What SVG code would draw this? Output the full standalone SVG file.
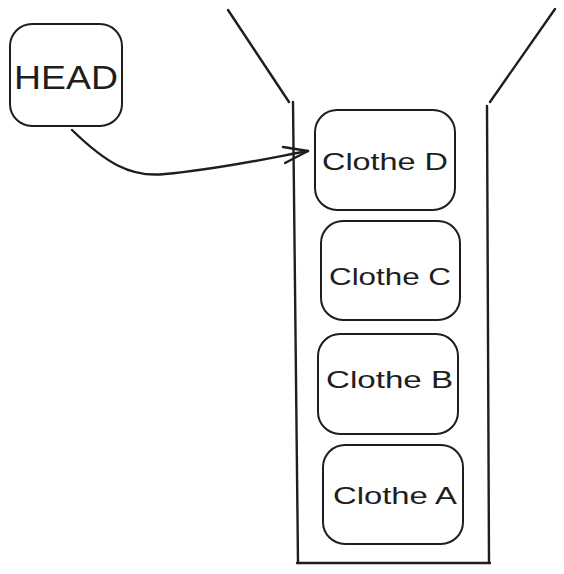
<svg xmlns="http://www.w3.org/2000/svg" width="564" height="574" viewBox="0 0 564 574">
<style>
.box{fill:#ffffff;stroke:#1e1e1e;stroke-width:2;}
.ln{fill:none;stroke:#1e1e1e;stroke-width:2.4;stroke-linecap:round;stroke-linejoin:round;}
.lbl{font-family:"Liberation Sans","DejaVu Sans",sans-serif;fill:#1e1e1e;}
</style>
<rect width="564" height="574" fill="#ffffff"/>
<g id="funnel">
<path class="ln" d="M228,10 L289,102"/>
<path class="ln" d="M555,9 L490,102"/>
<path class="ln" d="M293,102 L298,563"/>
<path class="ln" d="M487,106 L489,563"/>
<path class="ln" d="M297,563 L490,563"/>
</g>
<g id="head">
<rect class="box" x="10" y="24" width="112" height="102" rx="22"/>
<text class="lbl" x="14" y="89" font-size="34" textLength="104" lengthAdjust="spacingAndGlyphs">HEAD</text>
</g>
<g id="clothe-d">
<rect class="box" x="315" y="110" width="140" height="100" rx="22"/>
<text class="lbl" x="322" y="170" font-size="24" textLength="126" lengthAdjust="spacingAndGlyphs">Clothe D</text>
</g>
<g id="clothe-c">
<rect class="box" x="321" y="221" width="139" height="99" rx="22"/>
<text class="lbl" x="329" y="285" font-size="24" textLength="122" lengthAdjust="spacingAndGlyphs">Clothe C</text>
</g>
<g id="clothe-b">
<rect class="box" x="318" y="334" width="140" height="100" rx="22"/>
<text class="lbl" x="326" y="388" font-size="24" textLength="127" lengthAdjust="spacingAndGlyphs">Clothe B</text>
</g>
<g id="clothe-a">
<rect class="box" x="323" y="445" width="140" height="99" rx="22"/>
<text class="lbl" x="333" y="504" font-size="24" textLength="124" lengthAdjust="spacingAndGlyphs">Clothe A</text>
</g>
<g id="connectors">
<path class="ln" d="M72,130 C105,162 130,178 165,174 C215,170 270,158 308,151"/>
<path class="ln" d="M283,147 L308,151 L285,163"/>
</g>
</svg>
